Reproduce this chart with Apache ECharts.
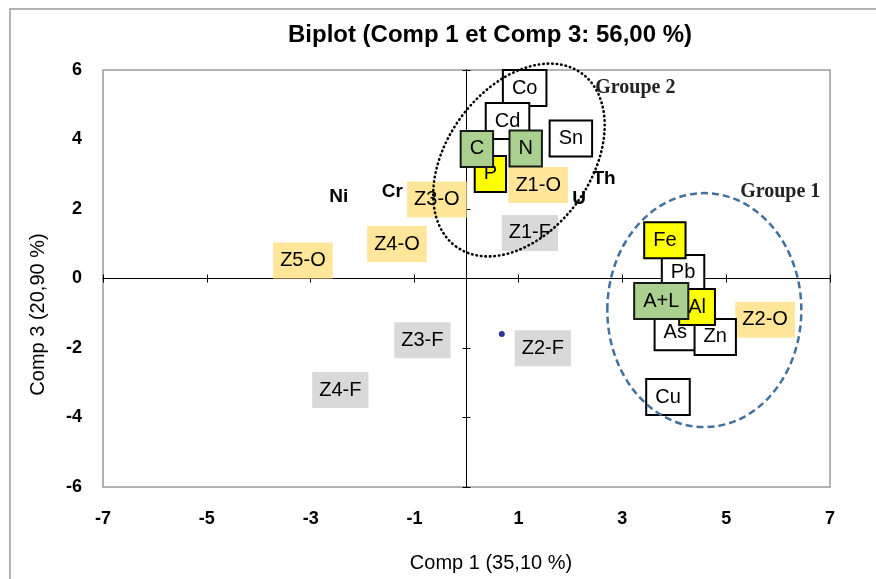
<!DOCTYPE html>
<html><head><meta charset="utf-8">
<script src="https://cdn.jsdelivr.net/npm/echarts@6/dist/echarts.min.js"></script>
<style>html,body{margin:0;padding:0;background:#fff}#c{width:876px;height:579px}</style>
</head><body><div id="c"></div>
<script>
// ---- data ----
const titleText = 'Biplot (Comp 1 et Comp 3: 56,00 %)';
const xName = 'Comp 1 (35,10 %)';
const yName = 'Comp 3 (20,90 %)';

// variables, white boxes
const whiteNames = ['Co', 'Cd', 'Sn', 'Pb', 'As', 'Zn', 'Cu'];
const whiteX = [1.12, 0.79, 2.01, 4.17, 4.02, 4.79, 3.88];
const whiteY = [5.48, 4.53, 4.03, 0.16, -1.55, -1.68, -3.41];
// variables, yellow boxes
const yellowNames = ['P', 'Fe', 'Al'];
const yellowX = [0.46, 3.82, 4.44];
const yellowY = [3.01, 1.10, -0.82];
// variables, green boxes
const greenNames = ['C', 'N', 'A+L'];
const greenX = [0.20, 1.14, 3.75];
const greenY = [3.73, 3.74, -0.65];
// variables without box
const plainNames = ['Ni', 'Cr', 'Th', 'U'];
const plainX = [-2.46, -1.43, 2.65, 2.17];
const plainY = [2.36, 2.50, 2.88, 2.30];
// observations "-O"
const oNames = ['Z1-O', 'Z2-O', 'Z3-O', 'Z4-O', 'Z5-O'];
const oX = [1.38, 5.75, -0.57, -1.34, -3.15];
const oY = [2.69, -1.19, 2.27, 0.99, 0.52];
// observations "-F"
const fNames = ['Z1-F', 'Z2-F', 'Z3-F', 'Z4-F'];
const fX = [1.22, 1.47, -0.85, -2.43];
const fY = [1.31, -2.01, -1.78, -3.21];
// lone point
const dotX = [0.68];
const dotY = [-1.60];

// group annotations (data-space centres)
const groupNames = ['Groupe 1', 'Groupe 2'];
const groupCx = [4.58, 1.01];
const groupCy = [-0.91, 3.41];
const groupLabelX = [5.27, 2.48];
const groupLabelY = [2.49, 5.50];

const FONT = "'Liberation Sans', Arial, sans-serif";
const chart = echarts.init(document.getElementById('c'), null, {renderer: 'canvas'});

function pts(names, xs, ys) {
  return names.map((n, i) => ({name: n, value: [xs[i], ys[i]]}));
}
function labelSeries(names, xs, ys, lbl) {
  return {
    type: 'scatter', xAxisIndex: 0, yAxisIndex: 0, silent: true,
    symbolSize: 1, itemStyle: {color: 'transparent'},
    data: pts(names, xs, ys),
    label: Object.assign({
      show: true, position: 'inside', formatter: '{b}', color: '#000',
      textBorderWidth: 0, textBorderColor: 'transparent', opacity: 1,
      fontFamily: FONT, fontSize: 20, lineHeight: 20
    }, lbl),
    emphasis: {disabled: true}
  };
}
const boxed = (bg, border) => ({
  backgroundColor: bg, borderColor: border || 'transparent', borderWidth: border ? 2 : 0,
  padding: border ? [7, 8] : [8, 7]
});

const zeroAxisX = (pos) => ({
  type: 'value', min: -7, max: 7, interval: 2, position: pos,
  axisLine: {show: true, onZero: true, lineStyle: {color: '#000', width: 1}},
  axisTick: {show: true, length: 4, lineStyle: {color: '#000', width: 1}},
  axisLabel: {show: false}, splitLine: {show: false}
});
const zeroAxisY = (pos) => ({
  type: 'value', min: -6, max: 6, interval: 2, position: pos,
  axisLine: {show: true, onZero: true, lineStyle: {color: '#000', width: 1}},
  axisTick: {show: true, length: 4, lineStyle: {color: '#000', width: 1}},
  axisLabel: {show: false}, splitLine: {show: false}
});

chart.setOption({
  animation: false,
  backgroundColor: '#fff',
  title: {
    text: titleText, left: 490, top: 23, textAlign: 'center', padding: 0,
    textStyle: {fontFamily: FONT, fontSize: 24, fontWeight: 'bold', color: '#000'}
  },
  grid: {left: 103, right: 46, top: 70, bottom: 92, show: true,
         borderColor: '#9a9a9a', borderWidth: 1.5, backgroundColor: 'transparent'},
  xAxis: [
    {
      type: 'value', min: -7, max: 7, interval: 2, position: 'bottom',
      axisLine: {show: false, onZero: false}, axisTick: {show: false},
      splitLine: {show: false},
      axisLabel: {margin: 23, fontFamily: FONT, fontSize: 18, fontWeight: 'bold', color: '#000'},
      name: xName, nameLocation: 'middle', nameGap: 66,
      nameTextStyle: {fontFamily: FONT, fontSize: 20, color: '#000', padding: [0, 0, 0, 49]}
    },
    zeroAxisX('top'),
    zeroAxisX('bottom')
  ],
  yAxis: [
    {
      type: 'value', min: -6, max: 6, interval: 2, position: 'left',
      axisLine: {show: false, onZero: false}, axisTick: {show: false},
      splitLine: {show: false},
      axisLabel: {margin: 21, fontFamily: FONT, fontSize: 18, fontWeight: 'bold', color: '#000'},
      name: yName, nameLocation: 'middle', nameGap: 55, nameRotate: 90,
      nameTextStyle: {fontFamily: FONT, fontSize: 20, color: '#000', padding: [0, 72, 0, 0]}
    },
    zeroAxisY('right'),
    zeroAxisY('left')
  ],
  series: [
    labelSeries(oNames, oX, oY, boxed('#FFE699', null)),
    labelSeries(fNames, fX, fY, boxed('#D9D9D9', null)),
    labelSeries(whiteNames, whiteX, whiteY, boxed('#FFFFFF', '#000')),
    labelSeries(yellowNames, yellowX, yellowY, boxed('#FFFF00', '#000')),
    labelSeries(greenNames, greenX, greenY, boxed('#A9D08E', '#1a1a1a')),
    labelSeries(plainNames, plainX, plainY, {fontWeight: 'bold', fontSize: 19}),
    {
      type: 'scatter', xAxisIndex: 0, yAxisIndex: 0, silent: true,
      symbol: 'circle', symbolSize: 6, itemStyle: {color: '#00007a'},
      data: dotX.map((x, i) => [x, dotY[i]])
    }
  ]
});

function px(x, y) { return chart.convertToPixel({seriesIndex: 6}, [x, y]); }
const c1 = px(groupCx[0], groupCy[0]);
const c2 = px(groupCx[1], groupCy[1]);
const l1 = px(groupLabelX[0], groupLabelY[0]);
const l2 = px(groupLabelX[1], groupLabelY[1]);
chart.setOption({
  graphic: [
    {type: 'rect', z: 0, silent: true,
     shape: {x: 10, y: 9, width: 900, height: 620},
     style: {fill: 'none', stroke: '#9a9a9a', lineWidth: 1.5}},
    {type: 'ellipse', z: 100, silent: true, x: c1[0], y: c1[1],
     shape: {cx: 0, cy: 0, rx: 97, ry: 117},
     style: {fill: 'none', stroke: '#41719C', lineWidth: 2.5, lineDash: [7, 4]}},
    {type: 'ellipse', z: 100, silent: true, x: c2[0], y: c2[1], rotation: 54 * Math.PI / 180,
     shape: {cx: 0, cy: 0, rx: 107, ry: 72},
     style: {fill: 'none', stroke: '#000', lineWidth: 2.6, lineDash: [0.5, 4], lineCap: 'round'}},
    {type: 'text', z: 100, silent: true, x: l1[0], y: l1[1],
     style: {text: groupNames[0], fill: '#222', font: "bold 20px 'Liberation Serif', 'Times New Roman', serif",
             textAlign: 'left', textVerticalAlign: 'middle'}},
    {type: 'text', z: 100, silent: true, x: l2[0], y: l2[1],
     style: {text: groupNames[1], fill: '#222', font: "bold 20px 'Liberation Serif', 'Times New Roman', serif",
             textAlign: 'left', textVerticalAlign: 'middle'}}
  ]
});
</script>
</body></html>
